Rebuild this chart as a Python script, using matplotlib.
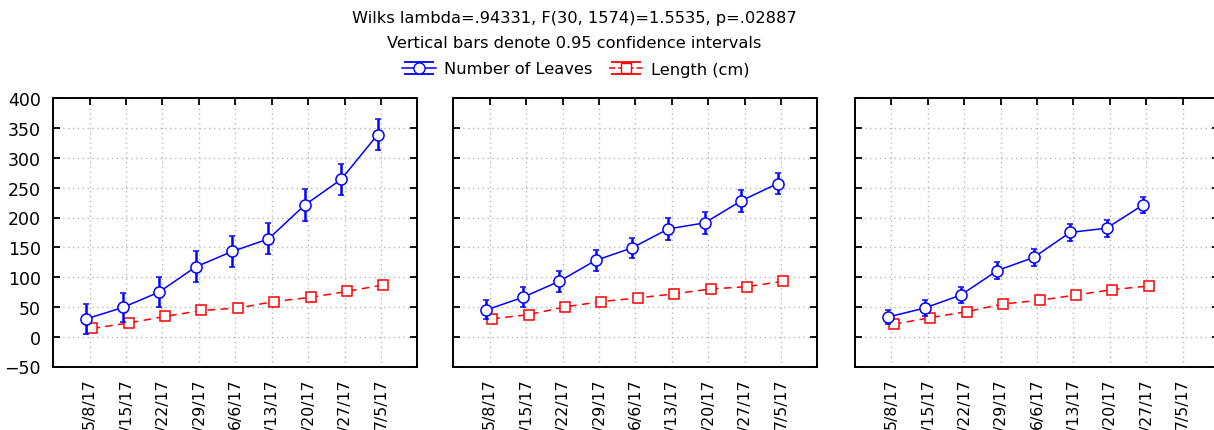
import numpy as np
import matplotlib.pyplot as plt
from matplotlib.lines import Line2D
from matplotlib.path import Path
from matplotlib.legend_handler import HandlerTuple

dates = ["5/8/17", "5/15/17", "5/22/17", "5/29/17", "6/6/17",
         "6/13/17", "6/20/17", "6/27/17", "7/5/17"]
y_ticks = [-50, 0, 50, 100, 150, 200, 250, 300, 350, 400]

# number of leaves (mean and 95% CI half-width), one list per group
leaves_a = [30, 49, 75, 117, 143, 164, 221, 264, 339]
leaves_a_ci = [25, 24, 26, 26, 26, 26, 27, 26, 26]
leaves_b = [45, 66, 93, 128, 149, 181, 191, 228, 257]
leaves_b_ci = [16, 17, 18, 17, 17, 18, 18, 18, 18]
leaves_c = [33, 48, 70, 111, 133, 175, 182, 221]
leaves_c_ci = [12, 13, 14, 14, 14, 14, 14, 14]

# length in cm
length_a = [14, 23, 34, 44, 48, 59, 66, 76, 87]
length_a_ci = [3, 3, 3, 3, 3, 3, 3, 3, 3]
length_b = [30, 37, 50, 59, 65, 72, 80, 84, 93]
length_b_ci = [3, 3, 3, 3, 3, 3, 3, 3, 3]
length_c = [21, 32, 42, 55, 61, 70, 79, 85]
length_c_ci = [3, 3, 3, 3, 3, 3, 3, 3]

groups = [
    (leaves_a, leaves_a_ci, length_a, length_a_ci),
    (leaves_b, leaves_b_ci, length_b, length_b_ci),
    (leaves_c, leaves_c_ci, length_c, length_c_ci),
]

BLUE = "#0000ff"
RED = "#ff0000"

plt.rcParams["font.family"] = ["DejaVu Sans"]

fig = plt.figure(figsize=(12.14, 4.31), dpi=100)
W, H = 1214, 431
lefts = [53.3, 453.3, 855.0]
ax_w = 364.0
top, bottom = 99.3, 367.5

axes = []
for i, (leaves, leaves_ci, length, length_ci) in enumerate(groups):
    ax = fig.add_axes([lefts[i] / W, 1 - bottom / H, ax_w / W, (bottom - top) / H])
    axes.append(ax)
    xl = np.arange(1, len(leaves) + 1)
    xs = np.arange(1, len(length) + 1)

    ax.errorbar(xs + 0.07, length, yerr=length_ci, color=RED, ls=(0, (5, 3.5)),
                lw=1.1, marker="s", ms=7, mfc="white", mec=RED, mew=1.1,
                elinewidth=1.6, capsize=2.5, capthick=1.6, zorder=3)
    ax.errorbar(xl - 0.09, leaves, yerr=leaves_ci, color=BLUE, ls="-",
                lw=1.1, marker="o", ms=8, mfc="white", mec=BLUE, mew=1.1,
                elinewidth=1.8, capsize=2.5, capthick=1.6, zorder=4)

    ax.set_xlim(0, 10)
    ax.set_ylim(-50, 400)
    ax.set_xticks(range(1, len(dates) + 1))
    ax.set_xticklabels(dates, rotation=90, ha="center", va="top", fontsize=11.3)
    ax.set_yticks(y_ticks)
    ax.grid(True, color="#b8b8b8", ls=(0, (1, 2.5)), lw=1.0)
    ax.set_axisbelow(True)
    ax.tick_params(axis="x", bottom=False, top=True, direction="in",
                   length=5, width=1.3, pad=8)
    ax.tick_params(axis="y", left=True, right=True, direction="in",
                   length=5, width=1.3, pad=9, labelsize=12.5)
    if i > 0:
        ax.tick_params(axis="y", labelleft=False)
    for sp in ax.spines.values():
        sp.set_linewidth(1.4)

fig.text(574 / W, 1 - 18.5 / H, "Wilks lambda=.94331, F(30, 1574)=1.5535, p=.02887",
         ha="center", va="center", fontsize=11.7)
fig.text(574 / W, 1 - 44 / H, "Vertical bars denote 0.95 confidence intervals",
         ha="center", va="center", fontsize=11.7)

# legend icons: marker with wide error caps above and below
cap_path = Path([(-1, 0.42), (1, 0.42), (0, 0.42), (0, -0.42), (-1, -0.42), (1, -0.42)],
                [Path.MOVETO, Path.LINETO, Path.MOVETO, Path.LINETO, Path.MOVETO, Path.LINETO])
blue_caps = Line2D([], [], ls="none", marker=cap_path, ms=21, mec=BLUE, mew=1.3)
blue_line = Line2D([], [], color=BLUE, lw=1.1, marker="o", ms=8, mfc="white", mec=BLUE)
red_caps = Line2D([], [], ls="none", marker=cap_path, ms=21, mec=RED, mew=1.3)
red_line = Line2D([], [], color=RED, lw=1.1, ls=(0, (4, 2)), marker="s", ms=7,
                  mfc="white", mec=RED)
fig.legend([(blue_caps, blue_line), (red_caps, red_line)],
           ["Number of Leaves", "Length (cm)"],
           handler_map={tuple: HandlerTuple(ndivide=1)},
           loc="center", bbox_to_anchor=(576 / W, 1 - 70 / H), ncol=2,
           frameon=False, fontsize=11.7, handlelength=2.1, handletextpad=0.5,
           columnspacing=1.0, borderpad=0.0)

fig.savefig("out.png", dpi=100)
